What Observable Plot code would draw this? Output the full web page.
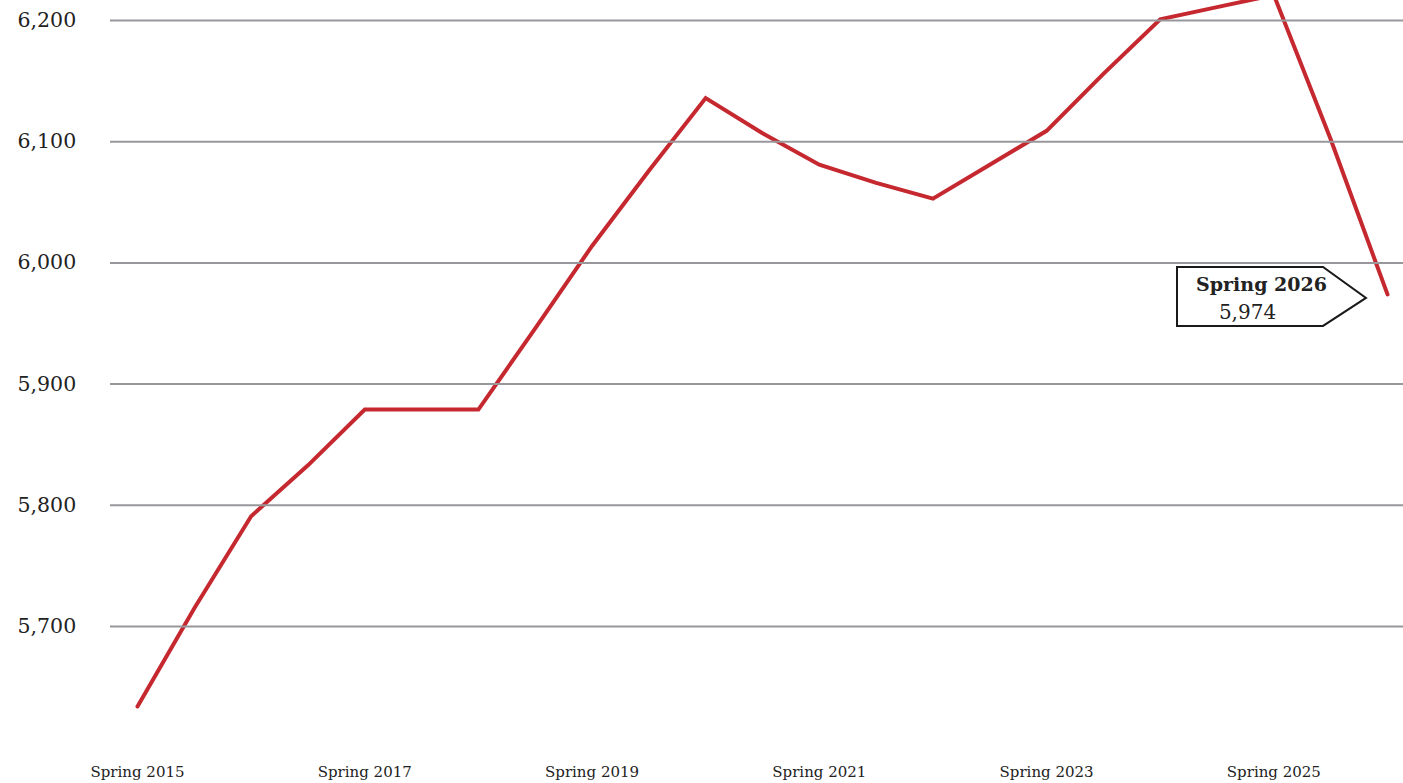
<!DOCTYPE html>
<html>
<head>
<meta charset="utf-8">
<script src="https://cdn.jsdelivr.net/npm/d3@7"></script>
<script src="https://cdn.jsdelivr.net/npm/@observablehq/plot@0.6"></script>
<style>
  html, body { margin: 0; padding: 0; background: #ffffff; }
  #chart svg { display: block; }
</style>
</head>
<body>
<div id="chart"></div>
<script>
// ---- Data ----
const terms = [
  "Spring 2015", "Fall 2015", "Spring 2016", "Fall 2016",
  "Spring 2017", "Fall 2017", "Spring 2018", "Fall 2018",
  "Spring 2019", "Fall 2019", "Spring 2020", "Fall 2020",
  "Spring 2021", "Fall 2021", "Spring 2022", "Fall 2022",
  "Spring 2023", "Fall 2023", "Spring 2024", "Fall 2024",
  "Spring 2025", "Fall 2025", "Spring 2026"
];
const enrollment = [
  5634, 5715, 5791, 5833,
  5879, 5879, 5879, 5946,
  6014, 6076, 6136, 6107,
  6081, 6066, 6053, 6081,
  6109, 6156, 6201, 6211,
  6221, 6102, 5974
];
const yTicks = [5700, 5800, 5900, 6000, 6100, 6200];
const xTickLabels = ["Spring 2015", "Spring 2017", "Spring 2019", "Spring 2021", "Spring 2023", "Spring 2025"];

// ---- Build table ----
const termPos = (t) => {
  const [season, yr] = t.split(" ");
  return +yr + (season === "Fall" ? 0.5 : 0);
};
const data = terms.map((term, i) => ({ term, t: termPos(term), value: enrollment[i] }));
const last = data[data.length - 1];
const xTickPos = xTickLabels.map(termPos);
const fmt = d3.format(",");

const INK = "#222222";
const RED = "#c5282f";
const GRID = "#98989c";

const chart = Plot.plot({
  width: 1403,
  height: 783,
  marginLeft: 110,
  marginRight: 0,
  marginTop: 0,
  marginBottom: 0,
  style: { fontFamily: "DejaVu Serif", background: "#ffffff", color: INK },
  x: { domain: [2015, 2026], range: [137, 1387], axis: null },
  y: { domain: [5700, 6200], range: [626, 20] },
  marks: [
    Plot.line(data, {
      x: "t", y: "value",
      stroke: RED, strokeWidth: 4,
      strokeLinejoin: "miter", strokeMiterlimit: 10
    }),
    Plot.ruleY(yTicks, { stroke: GRID, strokeWidth: 2 }),
    Plot.axisY(yTicks, {
      tickSize: 0,
      tickPadding: 93,
      textAnchor: "start",
      tickFormat: fmt,
      fontSize: 20.5,
      fill: INK,
      label: null
    }),
    Plot.text(xTickPos, {
      x: (d) => d,
      text: xTickLabels,
      frameAnchor: "bottom",
      lineAnchor: "bottom",
      dy: -7,
      textAnchor: "middle",
      fontSize: 15,
      fill: INK
    }),
    // Callout tag pointing at the last point
    (index, scales) => {
      const X = scales.x(last.t), Y = scales.y(last.value);
      const tipX = X - 21, tipY = Y + 4;
      const left = tipX - 189, notch = tipX - 43, top = tipY - 31, bottom = tipY + 28;
      return d3.create("svg:path")
        .attr("d", `M${left},${top}H${notch}L${tipX},${tipY}L${notch},${bottom}H${left}Z`)
        .attr("fill", "#ffffff")
        .attr("stroke", "#1a1a1a")
        .attr("stroke-width", 2)
        .node();
    },
    Plot.text([last], {
      x: "t", y: "value",
      text: (d) => d.term,
      dx: -126, dy: -3,
      lineAnchor: "bottom",
      textAnchor: "middle",
      fontWeight: "bold",
      fontSize: 19,
      fill: INK
    }),
    Plot.text([last], {
      x: "t", y: "value",
      text: (d) => fmt(d.value),
      dx: -140, dy: 25,
      lineAnchor: "bottom",
      textAnchor: "middle",
      fontSize: 20,
      fill: INK
    })
  ]
});

document.getElementById("chart").appendChild(chart);
</script>
</body>
</html>
